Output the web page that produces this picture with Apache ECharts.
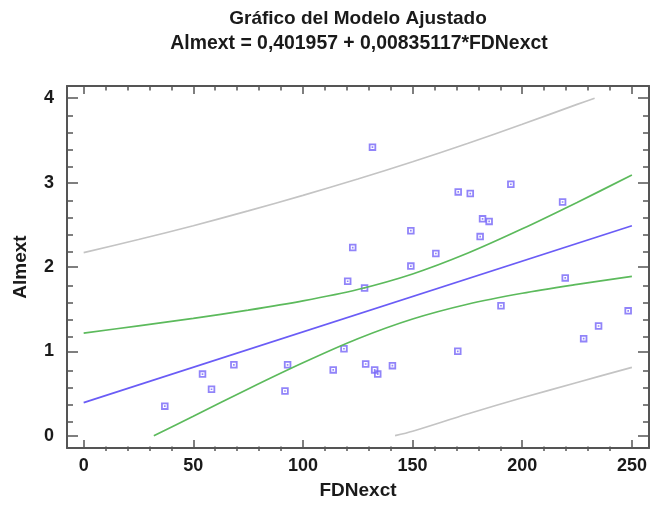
<!DOCTYPE html>
<html><head><meta charset="utf-8">
<script src="https://cdn.jsdelivr.net/npm/echarts@6/dist/echarts.min.js"></script>
<style>html,body{margin:0;padding:0;background:#fff}#c{width:651px;height:505px}</style>
</head><body><div id="c"></div>
<script>
// ---- texts ----
const titleLine1 = 'Gráfico del Modelo Ajustado';
const titleLine2 = 'Almext = 0,401957 + 0,00835117*FDNexct';
const xName = 'FDNexct';
const yName = 'Almext';

// ---- ticks ----
const xTicks = [0, 50, 100, 150, 200, 250];
const xMinorTicks = [10,20,30,40,60,70,80,90,110,120,130,140,160,170,180,190,210,220,230,240];
const yTicks = [0, 1, 2, 3, 4];
const yMinorTicks = [0.2,0.4,0.6,0.8,1.2,1.4,1.6,1.8,2.2,2.4,2.6,2.8,3.2,3.4,3.6,3.8];

// ---- observations ----
const obsX = [122.7,131.7,149.2,160.6,149.2,170.8,176.3,194.8,181.9,184.9,180.8,218.4,120.4,118.7,113.8,93.0,
              91.8,68.5,54.2,58.3,37.0,128.1,219.6,190.3,248.3,234.8,228.0,170.6,128.6,132.7,134.1,140.8];
const obsY = [2.23,3.42,2.43,2.16,2.01,2.89,2.87,2.98,2.57,2.54,2.36,2.77,1.83,1.03,0.78,0.84,
              0.53,0.84,0.73,0.55,0.35,1.75,1.87,1.54,1.48,1.30,1.15,1.00,0.85,0.78,0.73,0.83];

// ---- fitted line ----
const fitX = [0, 250];
const fitY = [0.392, 2.489];

// ---- confidence limits (green) ----
const confUpX = [0,25,50,75,100,125,150,175,200,225,250];
const confUpY = [1.215,1.302,1.391,1.488,1.598,1.733,1.917,2.162,2.452,2.765,3.089];
const confLoX = [32,50,75,100,125,150,175,200,225,250];
const confLoY = [0,0.231,0.554,0.864,1.149,1.383,1.558,1.688,1.793,1.889];

// ---- prediction limits (gray) ----
const predUpX = [0,25,50,75,100,125,150,175,200,225,233];
const predUpY = [2.169,2.325,2.489,2.664,2.848,3.043,3.247,3.464,3.691,3.927,4.0];
const predLoX = [142,150,175,200,225,250];
const predLoY = [0,0.053,0.257,0.449,0.631,0.810];

const zip = (a, b) => a.map((v, i) => [v, b[i]]);

const FONT = 'Liberation Sans, Arial, sans-serif';
const TXT = '#1a1a1a';
const BOX = '#555555';
const XMIN = -7.6, XMAX = 257.8, YMIN = -0.146, YMAX = 4.145;

function xAx(grid, pos, major, withLabels, withName) {
  return {
    type: 'value', gridIndex: grid, position: pos, min: XMIN, max: XMAX,
    axisLine: { show: major, onZero: false, lineStyle: { color: BOX, width: 2 } },
    axisTick: { show: true, inside: true, length: major ? 8 : 4.5,
                customValues: major ? xTicks : xMinorTicks,
                lineStyle: { color: BOX, width: 1.5 } },
    axisLabel: { show: withLabels, customValues: xTicks, margin: 9,
                 fontSize: 18, fontWeight: 'bold', fontFamily: FONT, color: TXT },
    splitLine: { show: false },
    name: withName ? xName : '', nameLocation: 'middle', nameGap: 33,
    nameTextStyle: { fontSize: 19, fontWeight: 'bold', fontFamily: FONT, color: TXT }
  };
}
function yAx(grid, pos, major, withLabels, withName) {
  return {
    type: 'value', gridIndex: grid, position: pos, min: YMIN, max: YMAX,
    axisLine: { show: major, onZero: false, lineStyle: { color: BOX, width: 2 } },
    axisTick: { show: true, inside: true, length: major ? 11 : 6,
                customValues: major ? yTicks : yMinorTicks,
                lineStyle: { color: BOX, width: 1.5 } },
    axisLabel: { show: withLabels, customValues: yTicks, margin: 13,
                 fontSize: 18, fontWeight: 'bold', fontFamily: FONT, color: TXT },
    splitLine: { show: false },
    name: withName ? yName : '', nameLocation: 'middle', nameGap: 37, nameRotate: 90,
    nameTextStyle: { fontSize: 19, fontWeight: 'bold', fontFamily: FONT, color: TXT }
  };
}

const gridRect = { left: 67, right: 2, top: 86, bottom: 54 };

const chart = echarts.init(document.getElementById('c'), null, { renderer: 'canvas' });
chart.setOption({
  backgroundColor: '#ffffff',
  animation: false,
  graphic: [
    { type: 'text', x: 358, y: 18.5, style: { text: titleLine1, align: 'center', verticalAlign: 'middle',
      font: 'bold 19px ' + FONT, fill: TXT } },
    { type: 'text', x: 359, y: 43.5, style: { text: titleLine2, align: 'center', verticalAlign: 'middle',
      font: 'bold 19.4px ' + FONT, fill: TXT } }
  ],
  grid: [Object.assign({}, gridRect), Object.assign({}, gridRect)],
  xAxis: [
    xAx(0, 'bottom', true, true, true),
    xAx(0, 'top', true, false, false),
    xAx(1, 'bottom', false, false, false),
    xAx(1, 'top', false, false, false)
  ],
  yAxis: [
    yAx(0, 'left', true, true, true),
    yAx(0, 'right', true, false, false),
    yAx(1, 'left', false, false, false),
    yAx(1, 'right', false, false, false)
  ],
  series: [
    { type: 'line', xAxisIndex: 0, yAxisIndex: 0, data: zip(predUpX, predUpY), smooth: 0.3,
      showSymbol: false, lineStyle: { color: '#c4c4c4', width: 1.7 } },
    { type: 'line', xAxisIndex: 0, yAxisIndex: 0, data: zip(predLoX, predLoY), smooth: 0.3,
      showSymbol: false, lineStyle: { color: '#c4c4c4', width: 1.7 } },
    { type: 'line', xAxisIndex: 0, yAxisIndex: 0, data: zip(confUpX, confUpY), smooth: 0.3,
      showSymbol: false, lineStyle: { color: '#5cba5c', width: 1.7 } },
    { type: 'line', xAxisIndex: 0, yAxisIndex: 0, data: zip(confLoX, confLoY), smooth: 0.3,
      showSymbol: false, lineStyle: { color: '#5cba5c', width: 1.7 } },
    { type: 'line', xAxisIndex: 0, yAxisIndex: 0, data: zip(fitX, fitY),
      showSymbol: false, lineStyle: { color: '#6a5cf6', width: 1.7 } },
    { type: 'scatter', xAxisIndex: 0, yAxisIndex: 0, data: zip(obsX, obsY),
      symbol: 'path://M0,0H10V10H0Z M2.4,2.4V7.6H7.6V2.4Z M3.9,3.9H6.1V6.1H3.9Z', symbolSize: 7.5,
      itemStyle: { color: '#7565f8' } }
  ]
});
</script></body></html>
